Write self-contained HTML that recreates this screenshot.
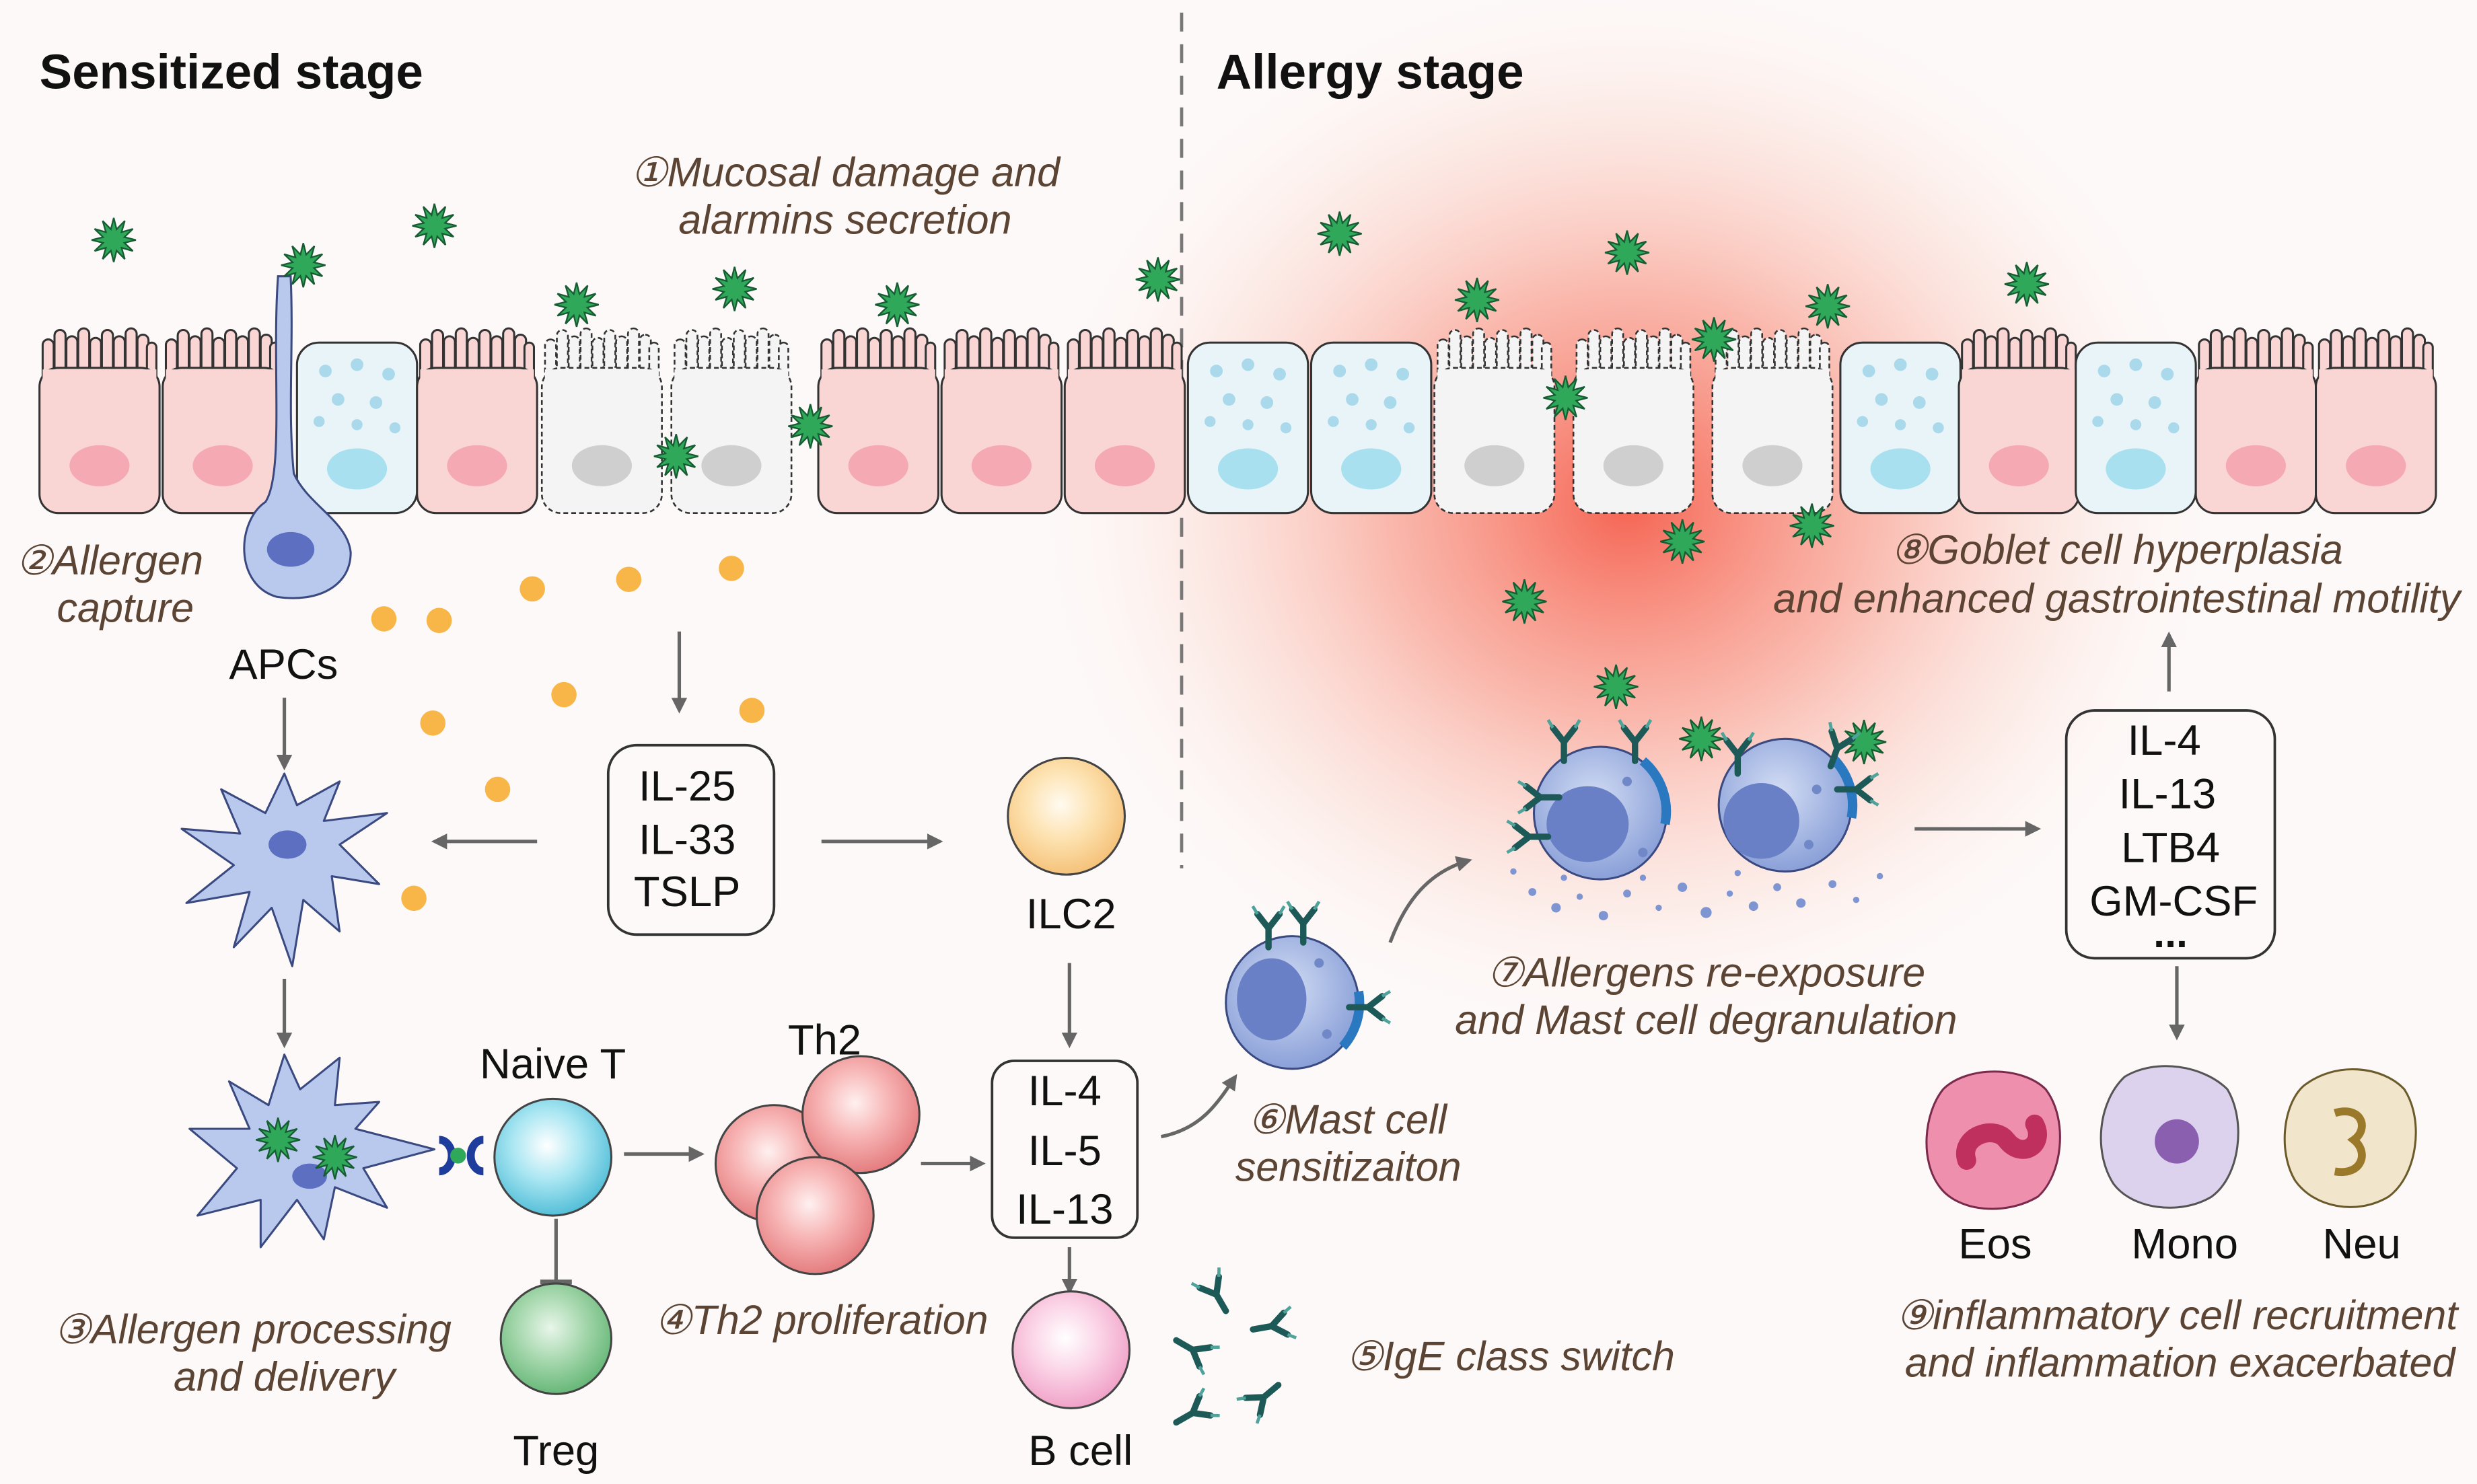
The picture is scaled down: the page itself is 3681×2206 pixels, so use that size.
<!DOCTYPE html>
<html><head><meta charset="utf-8"><style>
html,body{margin:0;padding:0;background:#fdf9f8;}
svg{display:block;}
text{font-family:"Liberation Sans",sans-serif;}
.lb{font-style:italic;fill:#5b4433;font-size:26px;}
.bk{fill:#111;font-size:27px;}
</style></head><body>
<svg width="3681" height="2206" viewBox="0 0 1568 940" preserveAspectRatio="none" xmlns="http://www.w3.org/2000/svg">
<defs>
<radialGradient id="glow" cx="50%" cy="50%" r="50%">
<stop offset="0" stop-color="#f44a36" stop-opacity="0.85"/>
<stop offset="0.4" stop-color="#f7836f" stop-opacity="0.55"/>
<stop offset="0.75" stop-color="#fbc5b8" stop-opacity="0.25"/>
<stop offset="1" stop-color="#fdf9f8" stop-opacity="0"/>
</radialGradient>
<marker id="ar" markerWidth="10" markerHeight="10" refX="8" refY="5" orient="auto" markerUnits="userSpaceOnUse"><path d="M0,0 L10,5 L0,10 z" fill="#666"/></marker>
<symbol id="star" overflow="visible"><polygon points="14,0 6.76,1.81 12.12,7 4.95,4.95 7,12.12 1.81,6.76 0,14 -1.81,6.76 -7,12.12 -4.95,4.95 -12.12,7 -6.76,1.81 -14,0 -6.76,-1.81 -12.12,-7 -4.95,-4.95 -7,-12.12 -1.81,-6.76 0,-14 1.81,-6.76 7,-12.12 4.95,-4.95 12.12,-7 6.76,-1.81" fill="#2fa85a" stroke="#175c33" stroke-width="1"/></symbol>
<symbol id="fing" overflow="visible">
<rect x="2" y="10" width="7" height="30" rx="3.5"/><rect x="9.5" y="4" width="7" height="36" rx="3.5"/><rect x="17" y="8" width="7" height="32" rx="3.5"/><rect x="24.5" y="3" width="7" height="37" rx="3.5"/><rect x="32" y="9" width="7" height="31" rx="3.5"/><rect x="39.5" y="4" width="7" height="36" rx="3.5"/><rect x="47" y="8" width="7" height="32" rx="3.5"/><rect x="54.5" y="3" width="7" height="37" rx="3.5"/><rect x="62" y="7" width="7" height="33" rx="3.5"/><rect x="68" y="12" width="6" height="28" rx="3"/>
</symbol>
<symbol id="pc" overflow="visible"><g fill="#f9d6d4" stroke="#333" stroke-width="1.3"><use href="#fing"/><rect x="0" y="28" width="76" height="92" rx="12"/></g><rect x="2" y="29" width="72" height="12" fill="#f9d6d4"/><ellipse cx="38" cy="90" rx="19" ry="13" fill="#f4a9b3"/></symbol>
<symbol id="gc" overflow="visible"><rect x="0" y="12" width="76" height="108" rx="14" fill="#e8f4f8" stroke="#333" stroke-width="1.3"/>
<g fill="#a9d9ea"><circle cx="18" cy="30" r="4"/><circle cx="38" cy="26" r="4"/><circle cx="58" cy="32" r="4"/><circle cx="26" cy="48" r="4"/><circle cx="50" cy="50" r="4"/><circle cx="14" cy="62" r="3.5"/><circle cx="38" cy="64" r="3.5"/><circle cx="62" cy="66" r="3.5"/></g><ellipse cx="38" cy="92" rx="19" ry="13" fill="#a8e0f0"/></symbol>
<symbol id="dc" overflow="visible"><g fill="#f4f4f4" stroke="#333" stroke-width="1.1" stroke-dasharray="3,2"><use href="#fing"/><rect x="0" y="28" width="76" height="92" rx="12"/></g><rect x="2" y="29" width="72" height="12" fill="#f4f4f4"/><ellipse cx="38" cy="90" rx="19" ry="13" fill="#cfcfcf"/></symbol>
<symbol id="ab" overflow="visible"><g stroke="#1d5a57" stroke-width="4" stroke-linecap="round" fill="none"><path d="M0,12 L0,0 M0,0 L-7,-9 M0,0 L7,-9"/></g><g stroke="#4fa39a" stroke-width="2" fill="none"><path d="M-7,-9 L-10,-14 M7,-9 L10,-14"/></g></symbol>
<radialGradient id="gy" cx="45%" cy="40%" r="60%"><stop offset="0" stop-color="#fffaf0"/><stop offset="0.5" stop-color="#fde2b0"/><stop offset="1" stop-color="#f5c27a"/></radialGradient>
<radialGradient id="gb" cx="45%" cy="40%" r="60%"><stop offset="0" stop-color="#ffffff"/><stop offset="0.5" stop-color="#a9e6f2"/><stop offset="1" stop-color="#55bfd8"/></radialGradient>
<radialGradient id="gg" cx="45%" cy="40%" r="60%"><stop offset="0" stop-color="#e8f6ea"/><stop offset="0.5" stop-color="#a7d8ae"/><stop offset="1" stop-color="#68b879"/></radialGradient>
<radialGradient id="gp" cx="45%" cy="40%" r="60%"><stop offset="0" stop-color="#fff0f0"/><stop offset="0.5" stop-color="#f7b3b3"/><stop offset="1" stop-color="#e57d80"/></radialGradient>
<radialGradient id="gk" cx="45%" cy="40%" r="60%"><stop offset="0" stop-color="#ffffff"/><stop offset="0.5" stop-color="#fbd3e6"/><stop offset="1" stop-color="#f0a2c8"/></radialGradient>
<radialGradient id="gm" cx="45%" cy="40%" r="60%"><stop offset="0" stop-color="#d3ddf4"/><stop offset="1" stop-color="#8aa0d8"/></radialGradient>
</defs>
<rect width="1568" height="940" fill="#fdf9f8"/>
<ellipse cx="1030" cy="320" rx="380" ry="340" fill="url(#glow)"/>
<line x1="748" y1="8" x2="748" y2="550" stroke="#777" stroke-width="2" stroke-dasharray="12,8"/>
<text x="25" y="56" font-size="31" font-weight="bold" fill="#111">Sensitized stage</text>
<text x="770" y="56" font-size="31" font-weight="bold" fill="#111">Allergy stage</text>

<!-- epithelium -->
<use href="#pc" x="25" y="205"/><use href="#pc" x="103" y="205"/><use href="#gc" x="188" y="205"/><use href="#pc" x="264" y="205"/>
<use href="#dc" x="343" y="205"/><use href="#dc" x="425" y="205"/><use href="#pc" x="518" y="205"/><use href="#pc" x="596" y="205"/><use href="#pc" x="674" y="205"/>
<use href="#gc" x="752" y="205"/><use href="#gc" x="830" y="205"/><use href="#dc" x="908" y="205"/><use href="#dc" x="996" y="205"/><use href="#dc" x="1084" y="205"/>
<use href="#gc" x="1165" y="205"/><use href="#pc" x="1240" y="205"/><use href="#gc" x="1314" y="205"/><use href="#pc" x="1390" y="205"/><use href="#pc" x="1466" y="205"/>

<!-- APC in epithelium -->
<path d="M176,175 C172,230 180,300 168,318 C150,330 148,370 175,378 C200,382 222,372 222,350 C220,330 195,320 186,300 C182,260 186,220 184,175 Z" fill="#b9c9ee" stroke="#3a4a80" stroke-width="1.3"/>
<ellipse cx="184" cy="348" rx="15" ry="11" fill="#5c6fc0"/>

<!-- stars -->
<g>
<use href="#star" x="72" y="152"/><use href="#star" x="275" y="143"/><use href="#star" x="192" y="168"/><use href="#star" x="365" y="193"/><use href="#star" x="465" y="183"/><use href="#star" x="568" y="193"/><use href="#star" x="733" y="177"/><use href="#star" x="428" y="289"/><use href="#star" x="513" y="270"/>
<use href="#star" x="848" y="148"/><use href="#star" x="1030" y="160"/><use href="#star" x="935" y="190"/><use href="#star" x="1157" y="194"/><use href="#star" x="1085" y="215"/><use href="#star" x="1283" y="180"/><use href="#star" x="991" y="252"/><use href="#star" x="1065" y="343"/><use href="#star" x="1147" y="333"/><use href="#star" x="965" y="381"/><use href="#star" x="1023" y="435"/><use href="#star" x="1077" y="468"/><use href="#star" x="1180" y="470"/>
</g>

<!-- orange dots -->
<g fill="#f8b548"><circle cx="243" cy="392" r="8"/><circle cx="278" cy="393" r="8"/><circle cx="337" cy="373" r="8"/><circle cx="398" cy="367" r="8"/><circle cx="463" cy="360" r="8"/><circle cx="357" cy="440" r="8"/><circle cx="274" cy="458" r="8"/><circle cx="315" cy="500" r="8"/><circle cx="476" cy="450" r="8"/><circle cx="262" cy="569" r="8"/></g>

<!-- arrows -->
<g stroke="#666" stroke-width="2.2" fill="none" marker-end="url(#ar)">
<line x1="430" y1="400" x2="430" y2="450"/><line x1="340" y1="533" x2="275" y2="533"/><line x1="520" y1="533" x2="595" y2="533"/>
<line x1="180" y1="442" x2="180" y2="486"/><line x1="180" y1="620" x2="180" y2="662"/><line x1="395" y1="731" x2="444" y2="731"/>
<line x1="583" y1="737" x2="622" y2="737"/><line x1="677" y1="610" x2="677" y2="662"/><line x1="677" y1="790" x2="677" y2="818"/>
<path d="M735,720 C760,715 770,700 782,682"/><path d="M880,597 C890,570 905,552 930,545"/>
<line x1="1212" y1="525" x2="1290" y2="525"/><line x1="1373" y1="438" x2="1373" y2="402"/><line x1="1378" y1="612" x2="1378" y2="657"/>
</g>
<line x1="352" y1="772" x2="352" y2="812" stroke="#666" stroke-width="2.2"/><line x1="342" y1="812" x2="362" y2="812" stroke="#666" stroke-width="3"/>

<!-- DCs -->
<path d="M180,490 L188,510 L215,495 L205,520 L245,515 L215,535 L240,560 L210,555 L215,590 L192,570 L185,612 L172,575 L148,600 L158,565 L118,572 L148,548 L115,525 L152,528 L140,500 L168,515 Z" fill="#b9c9ee" stroke="#3a4a80" stroke-width="1.3" stroke-linejoin="round"/>
<ellipse cx="182" cy="535" rx="12" ry="9" fill="#5c6fc0"/>
<path d="M180,668 L190,690 L215,670 L212,700 L240,698 L225,715 L275,728 L230,740 L245,765 L212,752 L205,785 L188,760 L165,790 L165,760 L125,770 L150,740 L120,715 L158,715 L145,685 L170,700 Z" fill="#b9c9ee" stroke="#3a4a80" stroke-width="1.3" stroke-linejoin="round"/>
<ellipse cx="196" cy="745" rx="11" ry="8" fill="#5c6fc0"/>
<use href="#star" x="176" y="722"/><use href="#star" x="212" y="733"/>
<path d="M278,722 a8,10 0 0 1 0,20" fill="none" stroke="#1e3c9c" stroke-width="5"/><path d="M306,722 a8,10 0 0 0 0,20" fill="none" stroke="#1e3c9c" stroke-width="5"/><circle cx="290" cy="732" r="5" fill="#2fa85a"/>

<!-- round cells -->
<circle cx="675" cy="517" r="37" fill="url(#gy)" stroke="#444" stroke-width="1.3"/>
<circle cx="350" cy="733" r="37" fill="url(#gb)" stroke="#444" stroke-width="1.3"/>
<circle cx="352" cy="848" r="35" fill="url(#gg)" stroke="#444" stroke-width="1.3"/>
<circle cx="490" cy="737" r="37" fill="url(#gp)" stroke="#444" stroke-width="1.3"/>
<circle cx="545" cy="706" r="37" fill="url(#gp)" stroke="#444" stroke-width="1.3"/>
<circle cx="516" cy="770" r="37" fill="url(#gp)" stroke="#444" stroke-width="1.3"/>
<circle cx="678" cy="855" r="37" fill="url(#gk)" stroke="#444" stroke-width="1.3"/>

<!-- boxes -->
<g fill="none" stroke="#333" stroke-width="1.6"><rect x="385" y="472" width="105" height="120" rx="18"/><rect x="628" y="672" width="92" height="112" rx="14"/><rect x="1308" y="450" width="132" height="157" rx="18"/></g>

<!-- antibodies (IgE) -->
<use href="#ab" transform="translate(770,820) rotate(-30)"/><use href="#ab" transform="translate(805,840) rotate(80)"/><use href="#ab" transform="translate(755,855) rotate(120)"/><use href="#ab" transform="translate(755,895) rotate(60)"/><use href="#ab" transform="translate(800,885) rotate(-130)"/>

<!-- mast cells -->
<g>
<circle cx="818" cy="635" r="42" fill="url(#gm)" stroke="#3a4a80" stroke-width="1.3"/><ellipse cx="805" cy="633" rx="22" ry="26" fill="#6a80c6"/>
<path d="M860,628 a42,42 0 0 1 -10,35" fill="none" stroke="#2a78c0" stroke-width="6"/>
<use href="#ab" transform="translate(803,588)"/><use href="#ab" transform="translate(825,585)"/><use href="#ab" transform="translate(866,638) rotate(90)"/>
<circle cx="1013" cy="515" r="42" fill="url(#gm)" stroke="#3a4a80" stroke-width="1.3"/><ellipse cx="1005" cy="522" rx="26" ry="24" fill="#6a80c6"/>
<path d="M1040,482 a42,42 0 0 1 14,40" fill="none" stroke="#2a78c0" stroke-width="6"/>
<use href="#ab" transform="translate(990,470)"/><use href="#ab" transform="translate(1035,470)"/><use href="#ab" transform="translate(968,530) rotate(-90)"/><use href="#ab" transform="translate(975,505) rotate(-90)"/>
<circle cx="1130" cy="510" r="42" fill="url(#gm)" stroke="#3a4a80" stroke-width="1.3"/><ellipse cx="1115" cy="520" rx="24" ry="24" fill="#6a80c6"/>
<path d="M1160,480 a42,42 0 0 1 12,38" fill="none" stroke="#2a78c0" stroke-width="6"/>
<use href="#ab" transform="translate(1100,478)"/><use href="#ab" transform="translate(1163,474) rotate(20)"/><use href="#ab" transform="translate(1175,500) rotate(90)"/>
<g fill="#7088c8"><circle cx="1030" cy="495" r="3"/><circle cx="1040" cy="540" r="3"/><circle cx="1150" cy="500" r="3"/><circle cx="1145" cy="535" r="3"/><circle cx="835" cy="610" r="3"/><circle cx="840" cy="655" r="3"/></g>
</g>
<g fill="#7e95d2"><circle cx="970" cy="565" r="2.5"/><circle cx="985" cy="575" r="3"/><circle cx="1000" cy="568" r="2"/><circle cx="1015" cy="580" r="3"/><circle cx="1030" cy="566" r="2.5"/><circle cx="1050" cy="575" r="2"/><circle cx="1065" cy="562" r="3"/><circle cx="1080" cy="578" r="3.5"/><circle cx="1095" cy="566" r="2"/><circle cx="1110" cy="574" r="3"/><circle cx="1125" cy="562" r="2.5"/><circle cx="1140" cy="572" r="3"/><circle cx="1160" cy="560" r="2.5"/><circle cx="1175" cy="570" r="2"/><circle cx="1190" cy="555" r="2"/><circle cx="958" cy="552" r="2"/><circle cx="1040" cy="556" r="2"/><circle cx="1100" cy="553" r="2"/><circle cx="990" cy="556" r="2"/></g>

<!-- effector cells -->
<path d="M1230,690 C1245,675 1280,675 1295,690 C1310,710 1305,745 1290,758 C1270,770 1240,768 1228,752 C1215,735 1218,705 1230,690 Z" fill="#ef8fae" stroke="#7a2a4a" stroke-width="1.3"/>
<path d="M1245,735 C1240,720 1262,712 1270,722 C1280,735 1295,725 1288,712" fill="none" stroke="#c0305e" stroke-width="12" stroke-linecap="round"/>
<path d="M1345,682 C1365,670 1395,675 1410,690 C1422,710 1418,745 1400,758 C1380,770 1350,766 1338,750 C1325,730 1328,698 1345,682 Z" fill="#ddd2ee" stroke="#555" stroke-width="1.3"/>
<circle cx="1378" cy="723" r="14" fill="#8a5fb0"/>
<path d="M1458,688 C1478,672 1508,675 1522,690 C1535,710 1530,745 1512,758 C1492,770 1465,765 1453,748 C1442,730 1445,700 1458,688 Z" fill="#f1e6cc" stroke="#6b5a2a" stroke-width="1.3"/>
<path d="M1478,705 C1495,700 1500,715 1490,722 C1500,730 1495,745 1478,742" fill="none" stroke="#9a7a2a" stroke-width="5"/>

<!-- text -->
<text class="lb" x="535" y="118" text-anchor="middle">①Mucosal damage and</text>
<text class="lb" x="535" y="148" text-anchor="middle">alarmins secretion</text>
<text class="lb" x="10" y="364">②Allergen</text><text class="lb" x="36" y="394">capture</text>
<text class="bk" x="145" y="430">APCs</text>
<text class="bk" x="435" y="507" text-anchor="middle">IL-25</text><text class="bk" x="435" y="541" text-anchor="middle">IL-33</text><text class="bk" x="435" y="574" text-anchor="middle">TSLP</text>
<text class="bk" x="678" y="588" text-anchor="middle">ILC2</text>
<text class="bk" x="350" y="683" text-anchor="middle">Naive T</text><text class="bk" x="522" y="668" text-anchor="middle">Th2</text>
<text class="bk" x="674" y="700" text-anchor="middle">IL-4</text><text class="bk" x="674" y="738" text-anchor="middle">IL-5</text><text class="bk" x="674" y="775" text-anchor="middle">IL-13</text>
<text class="bk" x="352" y="928" text-anchor="middle">Treg</text><text class="bk" x="684" y="928" text-anchor="middle">B cell</text>
<text class="lb" x="160" y="851" text-anchor="middle">③Allergen processing</text><text class="lb" x="180" y="881" text-anchor="middle">and delivery</text>
<text class="lb" x="520" y="845" text-anchor="middle">④Th2 proliferation</text>
<text class="lb" x="852" y="868">⑤IgE class switch</text>
<text class="lb" x="790" y="718">⑥Mast cell</text><text class="lb" x="782" y="748">sensitizaiton</text>
<text class="lb" x="1080" y="625" text-anchor="middle">⑦Allergens re-exposure</text><text class="lb" x="1080" y="655" text-anchor="middle">and Mast cell degranulation</text>
<text class="lb" x="1340" y="357" text-anchor="middle">⑧Goblet cell hyperplasia</text><text class="lb" x="1340" y="388" text-anchor="middle">and enhanced gastrointestinal motility</text>
<text class="bk" x="1370" y="478" text-anchor="middle">IL-4</text><text class="bk" x="1372" y="512" text-anchor="middle">IL-13</text><text class="bk" x="1374" y="546" text-anchor="middle">LTB4</text><text class="bk" x="1376" y="580" text-anchor="middle">GM-CSF</text>
<text x="1374" y="600" text-anchor="middle" font-size="26" font-weight="bold" fill="#111">...</text>
<text class="bk" x="1263" y="797" text-anchor="middle">Eos</text><text class="bk" x="1383" y="797" text-anchor="middle">Mono</text><text class="bk" x="1495" y="797" text-anchor="middle">Neu</text>
<text class="lb" x="1378" y="842" text-anchor="middle">⑨inflammatory cell recruitment</text><text class="lb" x="1380" y="872" text-anchor="middle">and inflammation exacerbated</text>
</svg>
</body></html>
